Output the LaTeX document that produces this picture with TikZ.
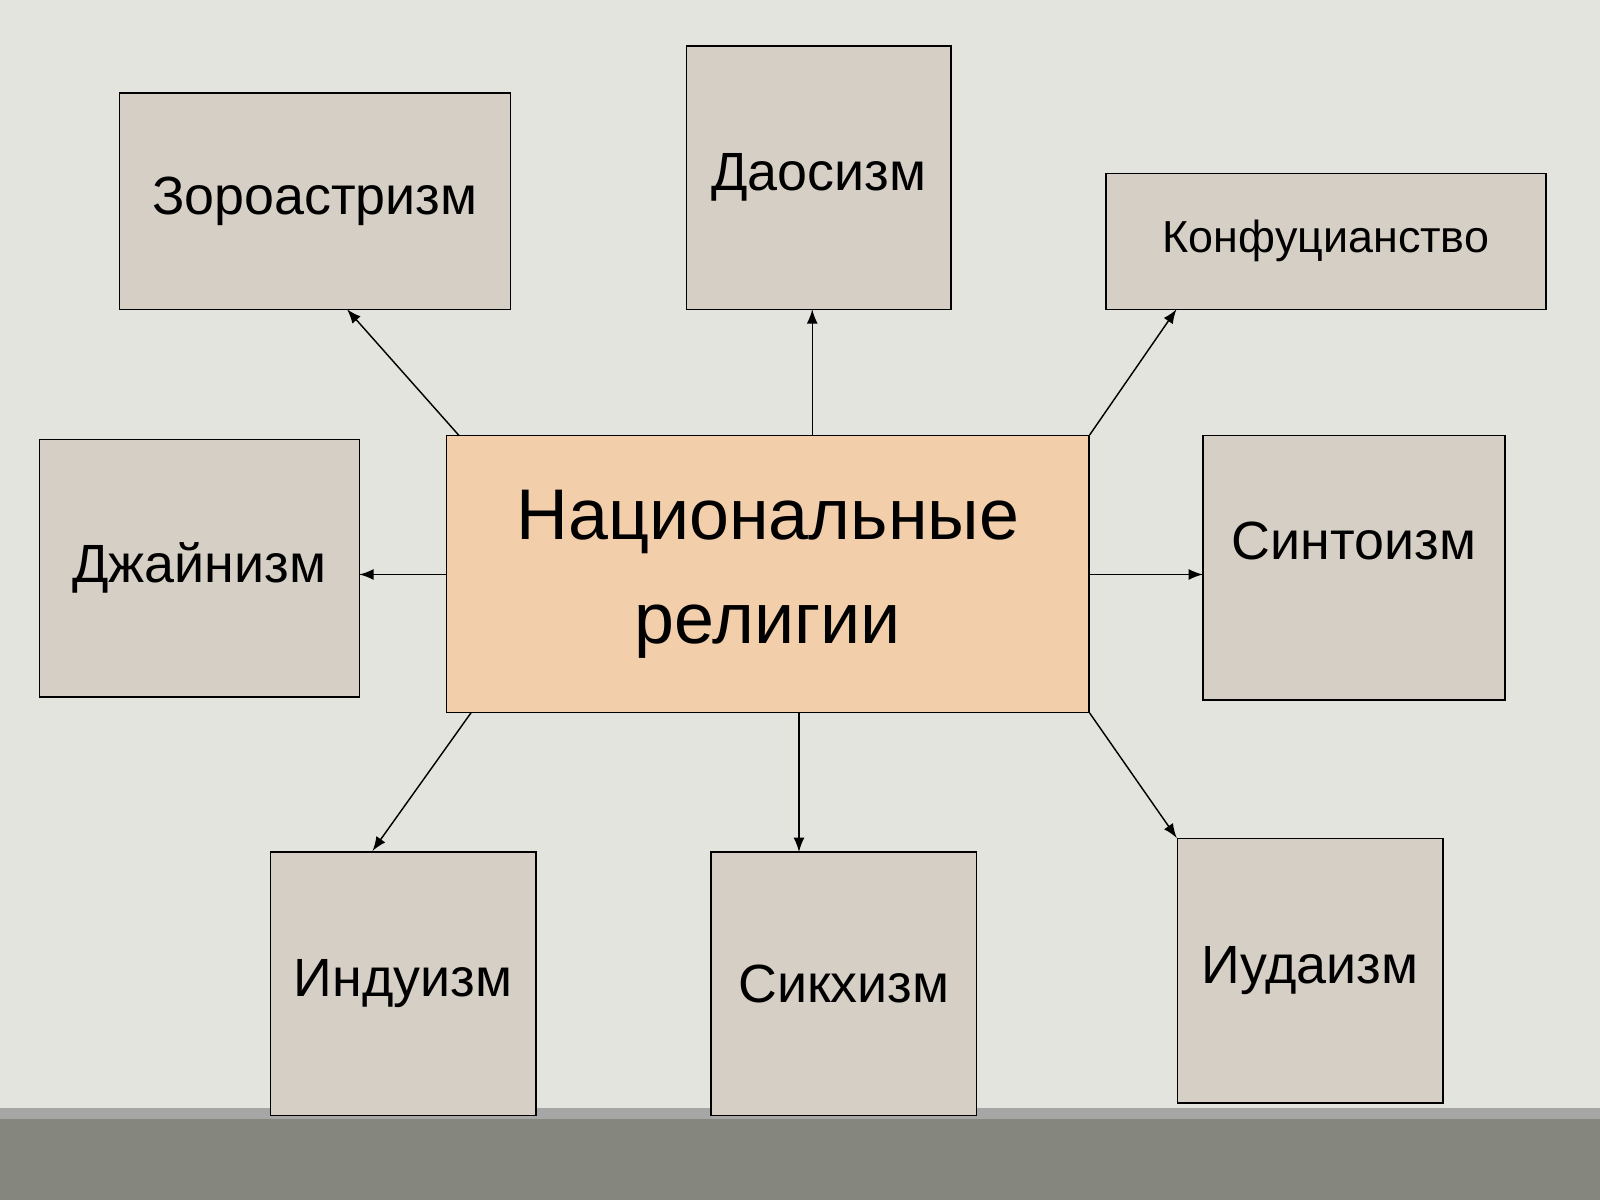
\documentclass[tikz,border=0pt]{standalone}
\usepackage{fontspec}
\setmainfont{Liberation Sans}
\usetikzlibrary{positioning}
\definecolor{bg}{HTML}{E4E4DE}
\definecolor{boxfill}{HTML}{D6CFC5}
\definecolor{mainfill}{HTML}{F2CFAA}
\definecolor{floor}{HTML}{85877F}
\begin{document}
\begin{tikzpicture}[x=0.01cm,y=-0.01cm,
                rel/.style={draw,fill=boxfill,inner sep=0pt,font=\fontsize{15}{18}\selectfont},
                arr/.style={-latex,thin}]
                \useasboundingbox (0,0) rectangle (1568,1176);
                \fill[bg] (0,0) rectangle (1568,1176);
                \fill[floor] (0,1088) rectangle (1568,1176);
                \fill[gray!70] (0,1086) rectangle (1568,1097);
                \node[draw,fill=mainfill,inner sep=0pt,
                      minimum width=6.29cm,minimum height=2.71cm,align=center,
                      font=\fontsize{20}{29}\selectfont] (nat) at (752.5,562.5){Национальные\\религии};
                \node[rel,minimum width=3.83cm,minimum height=2.12cm] (zor) at (308.5,197){Зороастризм};
                \node[rel,minimum width=2.59cm,minimum height=2.58cm] (dao) at (802.5,174){Даосизм};
                \node[rel,minimum width=4.31cm,minimum height=1.33cm,font=\fontsize{12.5}{15}\selectfont] (konf) at (1299.5,236.5){Конфуцианство};
                \node[rel,minimum width=3.13cm,minimum height=2.52cm] (dzh) at (195.5,557){Джайнизм};
                \node[rel,minimum width=2.96cm,minimum height=2.59cm] (sin) at (1327,556.5){};
                \node (sintext) at (1327,530){\fontsize{15}{18}\selectfont Синтоизм};
                \node[rel,minimum width=2.60cm,minimum height=2.58cm] (ind) at (395,964){Индуизм};
                \node[rel,minimum width=2.60cm,minimum height=2.58cm] (sikh) at (827,964){Сикхизм};
                \node[rel,minimum width=2.60cm,minimum height=2.59cm] (iud) at (1284,951.5){Иудаизм};
                % arrows
                \coordinate (zt) at (340,303);
                \coordinate (dt) at (796,303);
                \coordinate (kt) at (1153,303);
                \coordinate (it) at (365,834);
                \coordinate (st) at (783,835);
                \draw[arr] (450,427) -- (zt);
                \draw[arr] (796,427) -- (dt);
                \draw[arr] (nat.north east) -- (kt);
                \draw[arr] (438,563) -- (352,563);
                \draw[arr] (1067,563) -- (1179,563);
                \draw[arr] (462,698) -- (it);
                \draw[arr] (783,698) -- (st);
                \draw[arr] (nat.south east) -- (iud.north west);
\end{tikzpicture}
\end{document}
